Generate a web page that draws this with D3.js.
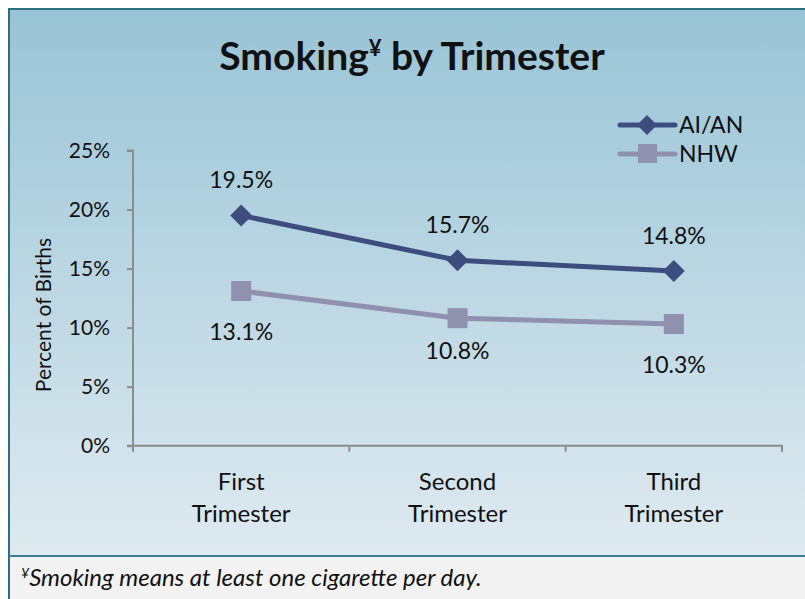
<!DOCTYPE html>
<html>
<head>
<meta charset="utf-8">
<script src="https://cdn.jsdelivr.net/npm/d3@7"></script>
<style>
  body { margin: 0; background: #fff; }
  svg { display: block; font-family: Lato, "Open Sans", sans-serif; }
</style>
</head>
<body>
<svg width="805" height="599"></svg>
<script>
// chart values
var categories = [["First", "Trimester"], ["Second", "Trimester"], ["Third", "Trimester"]];
var seriesNames = ["AI/AN", "NHW"];
var aian = [19.5, 15.7, 14.8];
var nhw = [13.1, 10.8, 10.3];
var yTicks = [0, 5, 10, 15, 20, 25];

var svg = d3.select("svg");

// gradient background like the slide
var defs = svg.append("defs");
var grad = defs.append("linearGradient").attr("id", "bg")
    .attr("x1", 0).attr("y1", 0).attr("x2", 0).attr("y2", 1);
grad.append("stop").attr("offset", "0%").attr("stop-color", "#98c4d6");
grad.append("stop").attr("offset", "100%").attr("stop-color", "#dfeaf0");

svg.append("rect").attr("x", 9).attr("y", 9).attr("width", 805).attr("height", 547)
    .attr("fill", "url(#bg)");
svg.append("rect").attr("x", 9).attr("y", 556).attr("width", 805).attr("height", 50)
    .attr("fill", "#f2f2f2");
// frame lines
svg.append("path").attr("d", "M9,605 V9 H810").attr("fill", "none")
    .attr("stroke", "#2d6f7d").attr("stroke-width", 2);
svg.append("line").attr("x1", 9).attr("x2", 810).attr("y1", 556).attr("y2", 556)
    .attr("stroke", "#3a7c8a").attr("stroke-width", 2);

// title
var title = svg.append("text").attr("x", 412).attr("y", 70)
    .attr("text-anchor", "middle").attr("font-weight", "bold")
    .attr("font-size", 39).attr("fill", "#111");
title.append("tspan").text("Smoking");
title.append("tspan").text("¥").attr("font-size", 22).attr("dy", -14);
title.append("tspan").text(" by Trimester").attr("dy", 14);

var margin = {top: 150.5, left: 133},
    width = 649, height = 295.2;

var x = d3.scaleBand().domain(d3.range(categories.length)).range([0, width]);
var y = d3.scaleLinear().domain([0, 25]).range([height, 0]);

var g = svg.append("g").attr("transform", "translate(" + margin.left + "," + margin.top + ")");

// y axis
var yAxis = g.append("g").call(d3.axisLeft(y).tickValues(yTicks).tickSize(6)
    .tickFormat(function(d) { return d + "%"; }));
yAxis.select(".domain").attr("stroke", "#8c8c8c").attr("stroke-width", 2)
    .attr("d", "M0," + (height + 6) + "V0H-6");
yAxis.selectAll(".tick line").attr("stroke", "#8c8c8c").attr("stroke-width", 2);
yAxis.selectAll(".tick text").attr("font-size", 21).attr("fill", "#111")
    .attr("x", -23).attr("font-family", "Lato, sans-serif");

// x axis
var xAxis = g.append("g").attr("transform", "translate(0," + height + ")")
    .call(d3.axisBottom(x).tickSize(0).tickFormat(""));
xAxis.select(".domain").attr("stroke", "#8c8c8c").attr("stroke-width", 2)
    .attr("d", "M-6,0H" + width + "V6");
xAxis.selectAll(".tick").remove();
xAxis.selectAll(".sep").data(d3.range(1, categories.length)).enter().append("line")
    .attr("x1", function(d) { return x(d); }).attr("x2", function(d) { return x(d); })
    .attr("y1", 0).attr("y2", 6).attr("stroke", "#8c8c8c").attr("stroke-width", 2);

var xl = g.selectAll(".xlab").data(categories).enter().append("text")
    .attr("text-anchor", "middle").attr("font-size", 24).attr("fill", "#111")
    .attr("transform", function(d, i) {
      return "translate(" + (x(i) + x.bandwidth() / 2) + "," + (height + 44) + ")";
    });
xl.append("tspan").attr("x", 0).text(function(d) { return d[0]; });
xl.append("tspan").attr("x", 0).attr("dy", 32).text(function(d) { return d[1]; });

// y axis title
g.append("text").attr("transform", "translate(-82," + (height / 2 + 17) + ") rotate(-90)")
    .attr("text-anchor", "middle").attr("font-size", 21).attr("fill", "#111")
    .text("Percent of Births");

var cx = function(d, i) { return x(i) + x.bandwidth() / 2; };
var line = d3.line().x(cx).y(function(d) { return y(d); });

var colors = ["#3d4d7e", "#8f91ae"];

// NHW series
g.append("path").datum(nhw).attr("d", line).attr("fill", "none")
  .attr("stroke", colors[1]).attr("stroke-width", 5);
g.selectAll(".sq").data(nhw).enter().append("rect")
  .attr("x", function(d, i) { return cx(d, i) - 10; })
  .attr("y", function(d) { return y(d) - 10; })
  .attr("width", 20).attr("height", 20).attr("fill", colors[1]);

// AI/AN series
g.append("path").datum(aian).attr("d", line).attr("fill", "none")
  .attr("stroke", colors[0]).attr("stroke-width", 5);
g.selectAll(".dia").data(aian).enter().append("path")
  .attr("d", "M0,-11L11,0L0,11L-11,0Z")
  .attr("transform", function(d, i) { return "translate(" + cx(d, i) + "," + y(d) + ")"; })
  .attr("fill", colors[0]);

// data labels (middle NHW label sits a little closer, as in the original)
g.selectAll(".la").data(aian).enter().append("text")
  .attr("x", cx).attr("y", function(d) { return y(d) - 27; })
  .attr("text-anchor", "middle").attr("font-size", 23).attr("fill", "#111")
  .text(function(d) { return d.toFixed(1) + "%"; });
g.selectAll(".lb").data(nhw).enter().append("text")
  .attr("x", cx).attr("y", function(d, i) { return y(d) + (i === 1 ? 41 : 49); })
  .attr("text-anchor", "middle").attr("font-size", 23).attr("fill", "#111")
  .text(function(d) { return d.toFixed(1) + "%"; });

// legend
var leg = svg.append("g").attr("transform", "translate(620,125)");
seriesNames.forEach(function(name, i) {
  var r = leg.append("g").attr("transform", "translate(0," + (i * 29) + ")");
  r.append("line").attr("x1", 0).attr("x2", 55).attr("stroke", colors[i])
    .attr("stroke-width", 5).attr("stroke-linecap", "round");
  if (i === 0) r.append("path").attr("d", "M27,-10L37,0L27,10L17,0Z").attr("fill", colors[0]);
  else r.append("rect").attr("x", 18).attr("y", -10).attr("width", 19).attr("height", 19).attr("fill", colors[1]);
  r.append("text").attr("x", 59).attr("y", 8).attr("font-size", 23).attr("fill", "#111").text(name);
});

// footnote
var fn = svg.append("text").attr("x", 21).attr("y", 586).attr("font-size", 24)
    .attr("font-style", "italic").attr("fill", "#111");
fn.append("tspan").text("¥").attr("font-size", 14).attr("dy", -8);
fn.append("tspan").text("Smoking means at least one cigarette per day.").attr("dy", 8);
</script>
</body>
</html>
